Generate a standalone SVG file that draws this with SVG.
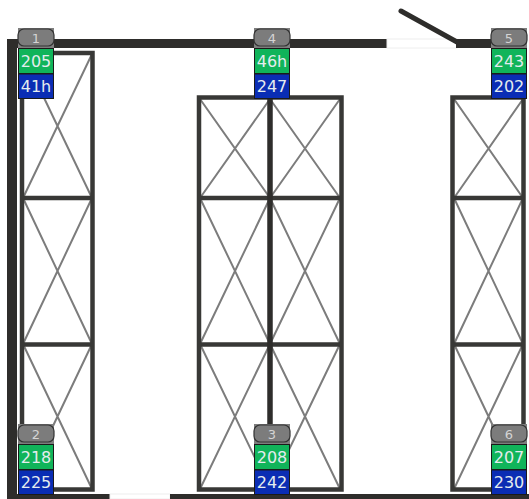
<svg xmlns="http://www.w3.org/2000/svg" width="529" height="499" viewBox="0 0 529 499">
<style>
.wall{fill:#2e2d2b}
.frame{fill:none;stroke:#383836;stroke-width:4.500}
.mid{fill:none;stroke:#2e2d2b;stroke-width:5.500}
.x{stroke:#7c7c7c;stroke-width:2;fill:none}
.plate{fill:#7e7e7e}
.cap{fill:#7c7c7c;stroke:#333;stroke-width:1.200}
.g{fill:#10b45a;stroke:#1a1a1a;stroke-width:1}
.b{fill:#0a2db4;stroke:#1a1a1a;stroke-width:1}
text{font-family:"DejaVu Sans",sans-serif;text-anchor:middle}
.t{font-size:16px;fill:#e4ecee}
.c{font-size:13px;fill:#d4d4d4}
</style>
<g id="walls">
<rect class="wall" x="7" y="39" width="380" height="9"/>
<rect x="387" y="39" width="70" height="9" fill="#fff" stroke="#eee" stroke-width="1"/>
<rect class="wall" x="456" y="39" width="40" height="9"/>
<rect class="wall" x="7" y="39" width="10" height="460"/>
<rect class="wall" x="17" y="494" width="93" height="5"/>
<rect x="110" y="494" width="60" height="5" fill="#fff" stroke="#eee" stroke-width="1"/>
<rect class="wall" x="170" y="494" width="359" height="5"/>
<path d="M401 11L457 42" stroke="#2e2d2b" stroke-width="5" stroke-linecap="round" fill="none"/>
</g>
<g id="racks">
<g id="rack-a">
<path class="x" d="M23 54L92 198M92 54L23 198M23 198L92 344M92 198L23 344M23 344L92 489M92 344L23 489"/>
<rect class="frame" x="22" y="53" width="70.500" height="436.500"/>
<path class="frame" d="M22 198H92.500M22 344.500H92.500"/>
</g>
<g id="rack-b">
<path class="x" d="M200 99L270 198M270 99L200 198M200 198L270 344M270 198L200 344M200 344L270 489M270 344L200 489M270 99L340 198M340 99L270 198M270 198L340 344M340 198L270 344M270 344L340 489M340 344L270 489"/>
<rect class="frame" x="199" y="97.500" width="142.500" height="392"/>
<path class="frame" d="M199 198H341.500M199 344.500H341.500"/>
<path class="mid" d="M270 97.500V489"/>
</g>
<g id="rack-c">
<path class="x" d="M454 99L523 198M523 99L454 198M454 198L523 344M523 198L454 344M454 344L523 489M523 344L454 489"/>
<rect class="frame" x="452.500" y="97.500" width="71" height="392"/>
<path class="frame" d="M452.500 198H523.500M452.500 344.500H523.500"/>
</g>
</g>
<g id="connectors"></g>
<g id="node-1"><rect class="plate" x="18" y="28" width="36" height="20"/><rect class="cap" x="18" y="29" width="36" height="17" rx="6"/><text class="c" x="36" y="43">1</text><rect class="g" x="18.500" y="48.500" width="35" height="25"/><rect class="b" x="18.500" y="74" width="35" height="24.500"/><text class="t" x="36" y="67">205</text><text class="t" x="36" y="92">41h</text></g>
<g id="node-4"><rect class="plate" x="254" y="28" width="36" height="20"/><rect class="cap" x="254" y="29" width="36" height="17" rx="6"/><text class="c" x="272" y="43">4</text><rect class="g" x="254.500" y="48.500" width="35" height="25"/><rect class="b" x="254.500" y="74" width="35" height="24.500"/><text class="t" x="272" y="67">46h</text><text class="t" x="272" y="92">247</text></g>
<g id="node-5"><rect class="plate" x="491" y="28" width="36" height="20"/><rect class="cap" x="491" y="29" width="36" height="17" rx="6"/><text class="c" x="509" y="43">5</text><rect class="g" x="491.500" y="48.500" width="35" height="25"/><rect class="b" x="491.500" y="74" width="35" height="24.500"/><text class="t" x="509" y="67">243</text><text class="t" x="509" y="92">202</text></g>
<g id="node-2"><rect class="plate" x="18" y="424" width="36" height="20"/><rect class="cap" x="18" y="425" width="36" height="17" rx="6"/><text class="c" x="36" y="439">2</text><rect class="g" x="18.500" y="444.500" width="35" height="25"/><rect class="b" x="18.500" y="470" width="35" height="24.500"/><text class="t" x="36" y="463">218</text><text class="t" x="36" y="488">225</text></g>
<g id="node-3"><rect class="plate" x="254" y="424" width="36" height="20"/><rect class="cap" x="254" y="425" width="36" height="17" rx="6"/><text class="c" x="272" y="439">3</text><rect class="g" x="254.500" y="444.500" width="35" height="25"/><rect class="b" x="254.500" y="470" width="35" height="24.500"/><text class="t" x="272" y="463">208</text><text class="t" x="272" y="488">242</text></g>
<g id="node-6"><rect class="plate" x="491" y="424" width="36" height="20"/><rect class="cap" x="491" y="425" width="36" height="17" rx="6"/><text class="c" x="509" y="439">6</text><rect class="g" x="491.500" y="444.500" width="35" height="25"/><rect class="b" x="491.500" y="470" width="35" height="24.500"/><text class="t" x="509" y="463">207</text><text class="t" x="509" y="488">230</text></g>
</svg>
